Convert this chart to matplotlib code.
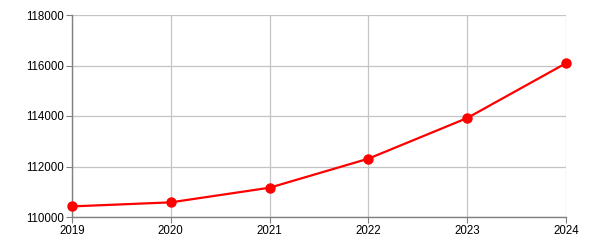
import matplotlib
matplotlib.use("Agg")
import matplotlib.pyplot as plt

years = [2019, 2020, 2021, 2022, 2023, 2024]
values = [110420, 110580, 111160, 112310, 113920, 116090]
y_ticks = [110000, 112000, 114000, 116000, 118000]

plt.rcParams["font.family"] = ["Liberation Sans", "DejaVu Sans"]

fig = plt.figure(figsize=(6, 2.5), dpi=100)
ax = fig.add_axes([72 / 600, 1 - 217 / 250, (566 - 72) / 600, (217 - 15) / 250])

ax.plot(years, values, "-", color="#ff0000", lw=1.6, marker="o", ms=6.5, zorder=3, clip_on=False)

ax.set_xlim(2019, 2024)
ax.set_ylim(110000, 118000)
ax.set_xticks(years)
ax.set_yticks(y_ticks)
ax.tick_params(labelsize=8.3, length=4, color="#808080", pad=2)
ax.grid(True, color="#c4c4c4", lw=0.9)
for s in ("top", "right"):
    ax.spines[s].set_visible(False)
for s in ("left", "bottom"):
    ax.spines[s].set_color("#808080")
    ax.spines[s].set_linewidth(1)

fig.savefig("out.png", dpi=100)
